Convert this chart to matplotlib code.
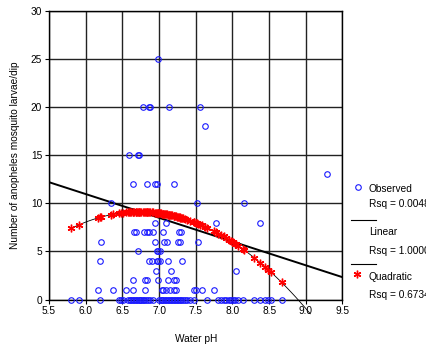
import numpy as np
import matplotlib
matplotlib.use("Agg")
import matplotlib.pyplot as plt

plt.rcParams['font.family'] = ['Liberation Sans', 'DejaVu Sans']

# observed water pH and larvae counts, grouped by count
ph_25 = [6.99]
ph_20 = [6.78, 6.86, 6.88, 7.13, 7.56]
ph_18 = [7.63]
ph_15 = [6.59, 6.71, 6.73]
ph_13 = [9.29]
ph_12 = [6.65, 6.84, 6.95, 6.97, 7.21]
ph_10 = [6.35, 7.52, 8.16]
ph_8 = [6.95, 7.10, 7.78, 8.38]
ph_7 = [6.66, 6.69, 6.80, 6.83, 6.86, 6.92, 7.05, 7.27, 7.30]
ph_6 = [6.21, 6.95, 7.07, 7.11, 7.26, 7.29, 7.53]
ph_5 = [6.71, 6.97, 6.99, 7.01]
ph_4 = [6.19, 6.86, 6.90, 6.97, 6.99, 7.01, 7.12, 7.31]
ph_3 = [6.96, 7.16, 8.05]
ph_2 = [6.65, 6.81, 6.83, 6.98, 7.12, 7.20, 7.23]
ph_1 = [6.17, 6.37, 6.55, 6.65, 6.81, 7.04, 7.06, 7.10, 7.15, 7.20, 7.23,
        7.48, 7.51, 7.58, 7.75]
ph_0 = [5.80, 5.91, 6.19, 6.45, 6.48, 6.51, 6.58, 6.60, 6.62, 6.64, 6.66,
        6.68, 6.70, 6.72, 6.74, 6.76, 6.78, 6.80, 6.82, 6.85, 6.88, 6.92,
        7.00, 7.02, 7.04, 7.06, 7.08, 7.10, 7.12, 7.14, 7.16, 7.18, 7.20,
        7.22, 7.24, 7.26, 7.28, 7.30, 7.32, 7.35, 7.38, 7.42, 7.47, 7.65,
        7.81, 7.84, 7.88, 7.91, 7.95, 7.98, 8.01, 8.04, 8.08, 8.15, 8.30,
        8.38, 8.44, 8.49, 8.52, 8.67]

groups = {25: ph_25, 20: ph_20, 18: ph_18, 15: ph_15, 13: ph_13, 12: ph_12,
          10: ph_10, 8: ph_8, 7: ph_7, 6: ph_6, 5: ph_5, 4: ph_4, 3: ph_3,
          2: ph_2, 1: ph_1, 0: ph_0}
ph = np.array([p for k, v in groups.items() for p in v])
larvae = np.array([k for k, v in groups.items() for p in v])

# fitted models
lin_intercept, lin_slope = 12.2, -2.47     # y = a + b*(x - 5.5)
quad_peak, quad_top, quad_curv = 6.738, 9.12, 1.966
x_min_axis, x_max_axis = 5.5, 9.5
quad_end = 9.06

legend_labels = ["Observed", "Rsq = 0.0048", "Linear", "Rsq = 1.0000",
                 "Quadratic", "Rsq = 0.6734"]

fig = plt.figure(figsize=(4.27, 3.48), dpi=100)
ax = fig.add_axes([49 / 427, 48.5 / 348, 293.5 / 427, 288.5 / 348])

ax.set_xlim(x_min_axis, x_max_axis)
ax.set_ylim(0, 30)
ax.set_xticks(np.arange(5.5, 9.51, 0.5))
ax.set_xticklabels([f"{v:.1f}" for v in np.arange(5.5, 9.51, 0.5)])
ax.set_yticks(range(0, 31, 5))
ax.grid(True, color='#222222', lw=1.0)
ax.set_axisbelow(True)
for s in ax.spines.values():
    s.set_color('black')
    s.set_linewidth(1.0)
ax.tick_params(direction='out', length=3, width=0.8, labelsize=7.3, pad=2)

# linear fit
xl = np.array([x_min_axis, x_max_axis])
ax.plot(xl, lin_intercept + lin_slope * (xl - 5.5), color='black', lw=1.4,
        zorder=3)

# quadratic fit
def quad(x):
    return quad_top - quad_curv * (x - quad_peak) ** 2

xq = np.linspace(ph.min(), quad_end, 100)
ax.plot(xq, quad(xq), color='black', lw=0.6, zorder=3, clip_on=False)
xs = np.sort(np.unique(ph))
ys = quad(xs)
keep = ys > -1
ax.plot(xs[keep], ys[keep], ls='none', marker=(6, 2, 0), ms=5.5,
        mec='red', mew=1.0, zorder=4, clip_on=False)

# observed
ax.plot(ph, larvae, ls='none', marker='o', ms=4, mfc='none', mec='#1a1aff',
        mew=0.8, zorder=5, clip_on=False)

ax.set_ylabel("Number of anopheles mosquito larvae/dip", fontsize=7.3,
              labelpad=8)
ax.set_xlabel("Water pH", fontsize=7.3, labelpad=13)

# legend drawn at the figure edge, cut off on the right like the original
def fx(px):
    return px / 427

def fy(py):
    return 1 - py / 348

fs = 7.3
fig.lines.append(plt.Line2D([fx(358.5)], [fy(187)], marker='o', ms=4,
                            mfc='none', mec='#1a1aff', mew=0.8,
                            transform=fig.transFigure))
fig.lines.append(plt.Line2D([fx(351), fx(376)], [fy(220), fy(220)],
                            color='black', lw=0.8, transform=fig.transFigure))
fig.lines.append(plt.Line2D([fx(351), fx(376)], [fy(263.5), fy(263.5)],
                            color='black', lw=0.8, transform=fig.transFigure))
fig.lines.append(plt.Line2D([fx(357.5)], [fy(274)], marker=(6, 2, 0), ms=5.5,
                            mec='red', mew=1.0, transform=fig.transFigure))
for lab, py in zip(legend_labels, [189, 204, 232, 251, 277, 295]):
    fig.text(fx(369), fy(py), lab, fontsize=fs, va='center', ha='left')

fig.savefig("out.png", dpi=100)
